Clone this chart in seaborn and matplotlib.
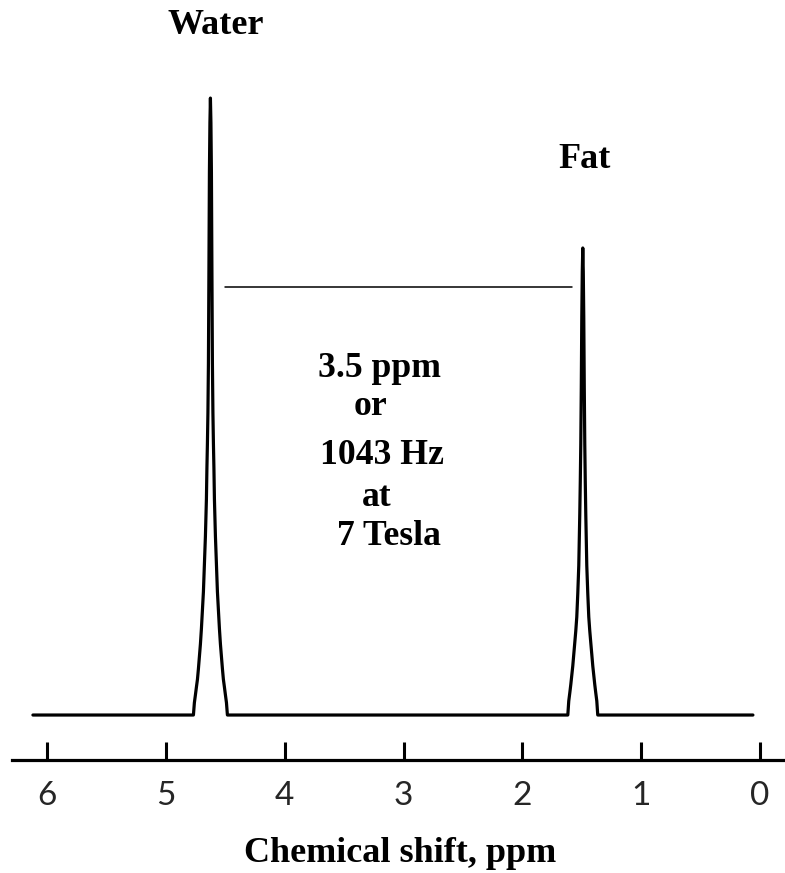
import matplotlib
matplotlib.use("Agg")
import matplotlib.pyplot as plt
import seaborn as sns
import pandas as pd

# ---- data ----
spectrum_start_ppm = 6.12
spectrum_end_ppm = 0.06

water_center_ppm = 4.626
water_peak = 1.0
water_offset_ppm = [0.0, 0.0042, 0.0084, 0.0126, 0.0168, 0.021, 0.0253, 0.0295,
                    0.0337, 0.0421, 0.0505, 0.0589, 0.0673, 0.0758, 0.0842,
                    0.0926, 0.101, 0.109, 0.118, 0.126, 0.135, 0.143]
water_shape = [1.0, 0.96, 0.88, 0.72, 0.57, 0.49, 0.44, 0.40,
               0.35, 0.29, 0.245, 0.20, 0.17, 0.14, 0.115,
               0.095, 0.075, 0.058, 0.045, 0.033, 0.02, 0.0]

fat_center_ppm = 1.492
fat_peak = 0.757
fat_offset_ppm = [0.0, 0.0042, 0.0084, 0.0126, 0.0168, 0.021, 0.0253, 0.0337,
                  0.0421, 0.0505, 0.0589, 0.0673, 0.0758, 0.0842, 0.0926,
                  0.101, 0.109, 0.118, 0.126]
fat_shape = [1.0, 0.95, 0.85, 0.70, 0.58, 0.50, 0.43, 0.32,
             0.26, 0.21, 0.18, 0.155, 0.13, 0.105, 0.085,
             0.065, 0.048, 0.03, 0.0]

separation_ppm = [4.503, 1.585]
separation_int = [0.694, 0.694]
tick_values = [6, 5, 4, 3, 2, 1, 0]
tick_labels = ["6", "5", "4", "3", "2", "1", "0"]
peak_labels = ["Water", "Fat"]
peak_label_ppm = [4.58, 1.473]
peak_label_int = [1.117, 0.900]
note_lines = ["3.5 ppm", "or", "1043 Hz", "at", "7 Tesla"]
note_ppm = [3.205, 3.28, 3.185, 3.225, 3.125]
note_int = [0.562, 0.500, 0.421, 0.352, 0.290]
x_label = "Chemical shift, ppm"


def peak_points(center, peak, offsets, shape):
    left = [(center + o, peak * s) for o, s in zip(offsets[::-1], shape[::-1])]
    right = [(center - o, peak * s) for o, s in zip(offsets[1:], shape[1:])]
    return left + right


pts = [(spectrum_start_ppm, 0.0)]
pts += peak_points(water_center_ppm, water_peak, water_offset_ppm, water_shape)
pts += peak_points(fat_center_ppm, fat_peak, fat_offset_ppm, fat_shape)
pts += [(spectrum_end_ppm, 0.0)]
df = pd.DataFrame(pts, columns=["ppm", "intensity"])

sns.set_theme(style="white")
plt.rcParams["font.family"] = ["Liberation Serif", "DejaVu Serif"]

fig = plt.figure(figsize=(7.85, 8.73), dpi=100)
ax = fig.add_axes([12 / 785, 113 / 873, 1 - 12 / 785, 1 - 113 / 873])

sns.lineplot(data=df, x="ppm", y="intensity", sort=False, estimator=None,
             color="black", linewidth=2.3, ax=ax)
sep = pd.DataFrame({"ppm": separation_ppm, "intensity": separation_int})
sns.lineplot(data=sep, x="ppm", y="intensity", sort=False, estimator=None,
             color="black", linewidth=1.1, ax=ax)

ax.set_xlim(6.296, -0.21)
ax.set_ylim(-0.0729, 1.159)

for s in ["left", "top", "right"]:
    ax.spines[s].set_visible(False)
ax.spines["bottom"].set_linewidth(2.3)
ax.spines["bottom"].set_color("black")

ax.set_yticks([])
ax.set_xticks(tick_values)
ax.set_xticklabels(tick_labels, fontfamily="Lato", fontsize=24)
ax.tick_params(axis="x", direction="in", length=13, width=2.2, color="black",
               pad=15, bottom=True)
ax.set_xlabel("")
ax.set_ylabel("")

for lab, px, py in zip(peak_labels, peak_label_ppm, peak_label_int):
    ax.text(px, py, lab, ha="center", va="center", fontsize=26,
            fontweight="bold", color="black")
for lab, px, py in zip(note_lines, note_ppm, note_int):
    ax.text(px, py, lab, ha="center", va="center", fontsize=25.7,
            fontweight="bold", color="black")

fig.text(400 / 785, 1 - 862 / 873, x_label, ha="center", va="baseline",
         fontsize=26, fontweight="bold", color="black")

fig.savefig("out.png", dpi=100)
